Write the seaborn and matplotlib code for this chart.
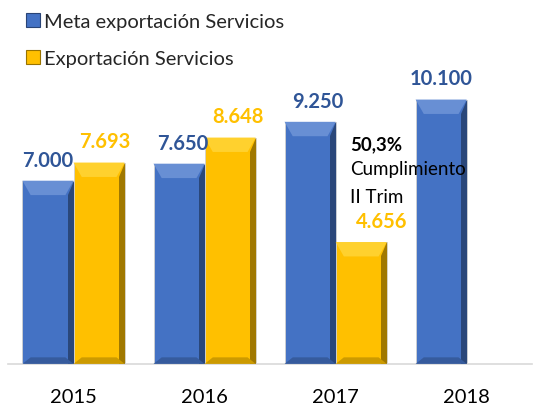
import numpy as np
import pandas as pd
import matplotlib
matplotlib.use("Agg")
import matplotlib.pyplot as plt
import matplotlib.colors as mcolors
from matplotlib.patches import Polygon, Patch
import seaborn as sns

# data
years = ["2015", "2016", "2017", "2018"]
meta = [7000, 7650, 9250, 10100]
exportacion = [7693, 8648, 4656, np.nan]
series = ["Meta exportación Servicios", "Exportación Servicios"]
colors = ["#4472C4", "#FFC000"]
label_colors = ["#2F5597", "#FFC000"]

df = pd.DataFrame({
    "year": years * 2,
    "value": meta + exportacion,
    "serie": [series[0]] * 4 + [series[1]] * 4,
})

sns.set_theme(style="white")
plt.rcParams["font.family"] = ["Lato", "DejaVu Sans"]

fig = plt.figure(figsize=(5.36, 4.10), dpi=100)
ax = fig.add_axes([0.015, 0.11, 0.978, 0.766])

sns.barplot(data=df, x="year", y="value", hue="serie", hue_order=series,
            palette=colors, width=0.78, gap=0, dodge=True, saturation=1,
            legend=False, ax=ax)

ax.set_xlim(-0.5, 3.5)
ax.set_ylim(0, 12000)

# bevel look on each bar
for cont, col in zip(ax.containers, colors):
    base = np.array(mcolors.to_rgb(col))
    for bar in cont:
        h = bar.get_height()
        if not np.isfinite(h) or h <= 0:
            continue
        bar.set_edgecolor("#D0D0D0")
        bar.set_linewidth(0.6)
        x0, w = bar.get_x(), bar.get_width()
        x1 = x0 + w
        bw = w * 0.16
        bh = 550
        # top bevel (lighter)
        ax.add_patch(Polygon([[x0, h], [x1, h], [x1 - bw, h - bh], [x0 + bw, h - bh]],
                             closed=True, color=np.clip(base * 0.85 + 0.18, 0, 1), lw=0, zorder=3))
        # right bevel (darker)
        ax.add_patch(Polygon([[x1, h], [x1, 0], [x1 - bw * 0.7, 0], [x1 - bw * 0.7, h - bh]],
                             closed=True, color=base * 0.5, lw=0, zorder=3, alpha=0.75))
        # bottom bevel
        ax.add_patch(Polygon([[x0, 0], [x1, 0], [x1 - bw, 250], [x0 + bw, 250]],
                             closed=True, color=base * 0.8, lw=0, zorder=3))

# value labels
label_shift = {(1, 2): 0.16, (1, 0): 0.04, (1, 1): 0.06, (0, 1): 0.03, (0, 2): 0.06}
for si, cont in enumerate(ax.containers):
    for i, bar in enumerate(cont):
        h = bar.get_height()
        if not np.isfinite(h) or h <= 0:
            continue
        txt = f"{h:,.0f}".replace(",", ".")
        xc = bar.get_x() + bar.get_width() / 2 + label_shift.get((si, i), 0)
        ax.annotate(txt, (xc, h), xytext=(0, 8), textcoords="offset points",
                    ha="center", va="bottom", fontsize=14.5, fontweight="bold",
                    color=label_colors[si], zorder=5)

# annotation
ax.text(2.11, 8400, "50,3%", fontsize=13.5, fontweight="bold", color="black",
        ha="left", va="center", zorder=6)
ax.text(2.11, 7450, "Cumplimiento", fontsize=13.5, color="black",
        ha="left", va="center", zorder=6)
ax.text(2.11, 6400, "II Trim", fontsize=13.5, color="black",
        ha="left", va="center", zorder=6)

# axes styling
sns.despine(ax=ax, left=True, top=True, right=True, bottom=False)
ax.spines["bottom"].set_color("#D9D9D9")
ax.spines["bottom"].set_linewidth(1.2)
ax.set_yticks([])
ax.set_xlabel("")
ax.set_ylabel("")
ax.tick_params(axis="x", length=0, pad=17, labelsize=14.5, colors="black")

handles = [Patch(facecolor=c, edgecolor=np.array(mcolors.to_rgb(c)) * 0.6, lw=0.8) for c in colors]
fig.legend(handles, series, loc="upper left", bbox_to_anchor=(0.022, 1.0),
           frameon=False, fontsize=14.5, handlelength=0.7, handleheight=0.7,
           handletextpad=0.2, labelspacing=1.0, borderaxespad=0.3)

fig.savefig("out.png", dpi=100)
